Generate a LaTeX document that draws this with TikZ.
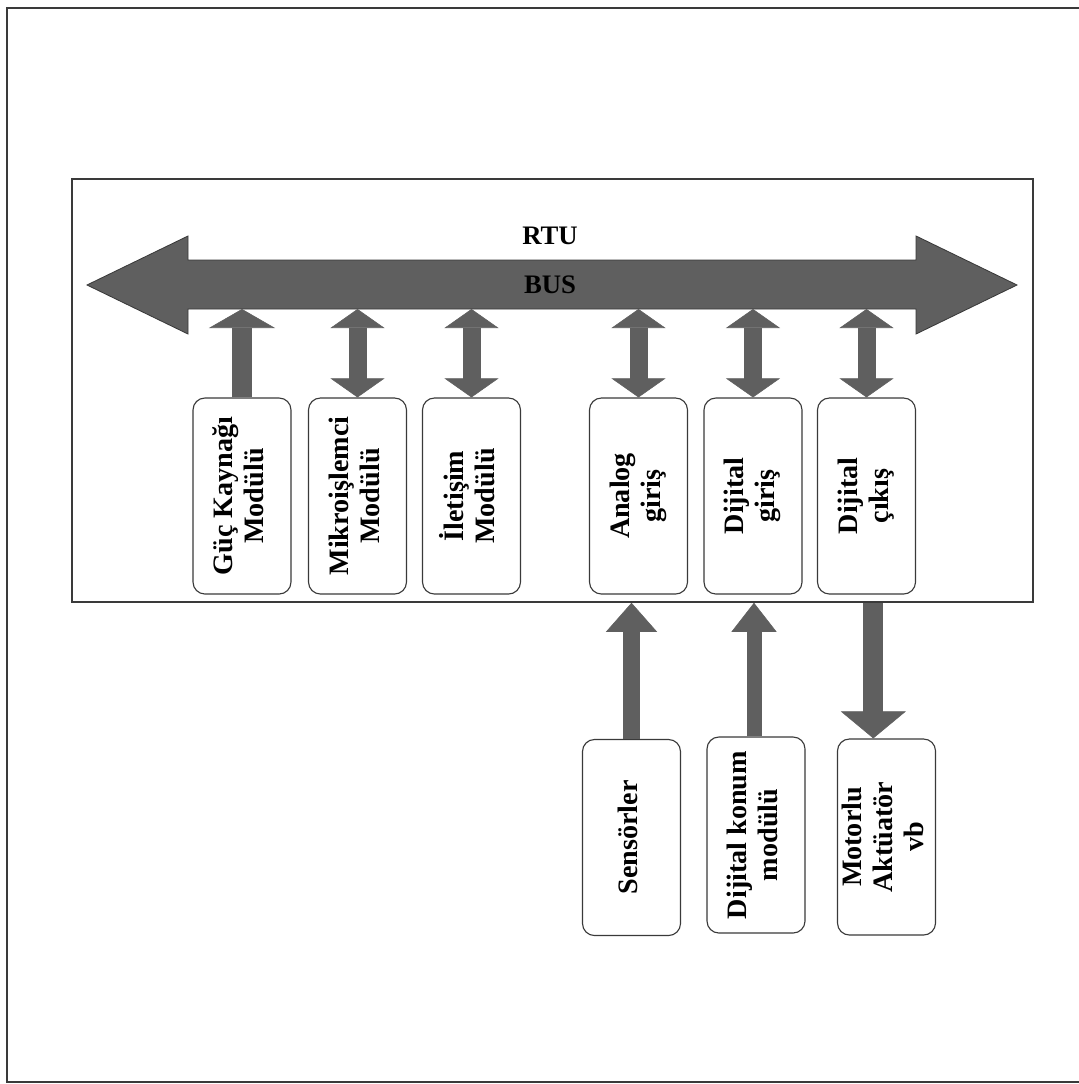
\documentclass[tikz,border=0pt]{standalone}
\usepackage{fontspec}
\setmainfont{Liberation Serif}
\usetikzlibrary{arrows.meta}
\definecolor{busgray}{HTML}{5F5F5F}
\definecolor{edgegray}{HTML}{3A3A3A}
\newcommand{\vlabel}[1]{\rotatebox{90}{\begin{tabular}{@{}c@{}}#1\end{tabular}}}
\begin{document}
\begin{tikzpicture}[x=0.025cm,y=-0.025cm,
    modul/.style={draw=edgegray,line width=0.8pt,rounded corners=0.3cm,fill=white,
      minimum width=2.45cm,minimum height=4.9cm,inner sep=0pt,
      font=\fontsize{20}{22}\selectfont\bfseries},
    link/.style={draw=busgray,line width=0.45cm,
      >={Triangle[width=1.35cm,length=0.475cm,line width=0.4pt,fill=busgray]},<->},
    feedup/.style={draw=busgray,line width=#1,->},
    buslabel/.style={font=\fontsize{19}{21}\selectfont\bfseries,inner sep=0pt}]
      \useasboundingbox (0,0) rectangle (1078,1084);

      % outer frame
      \draw [edgegray,line width=1.2pt] (1080,8) -- (7,8) -- (7,1082) -- (1080,1082);

      % RTU frame
      \node [draw=edgegray,line width=1pt,minimum width=24.025cm,minimum height=10.575cm,inner sep=0pt] (rtu) at (552.5,390.5) {};

      % bus
      \draw [fill=busgray,draw=edgegray,line width=0.6pt] (87,285) -- (188,236) -- (188,260) -- (916,260) -- (916,236)
            -- (1017,285) -- (916,334) -- (916,309) -- (188,309) -- (188,334) -- cycle;
      \coordinate (busS) at (550,309);
      \node [buslabel] (rtutext) at (550,236) {RTU};
      \node [buslabel] (bustext) at (550,285) {BUS};

      % modules in the RTU
      \node [modul] (m1) at (242,496) {\vlabel{Güç Kaynağı\\Modülü}};
      \node [modul] (m2) at (357.5,496) {\vlabel{Mikroişlemci\\Modülü}};
      \node [modul] (m3) at (471.5,496) {\vlabel{İletişim\\Modülü}};
      \node [modul] (m4) at (638.5,496) {\vlabel{Analog\\giriş}};
      \node [modul] (m5) at (753,496) {\vlabel{Dijital\\giriş}};
      \node [modul] (m6) at (866.5,496) {\vlabel{Dijital\\çıkış}};

      % field devices
      \node [modul] (s1) at (631.5,837.5) {\vlabel{Sensörler}};
      \node [modul] (s2) at (756,835) {\vlabel{Dijital konum\\modülü}};
      \node [modul] (s3) at (886.5,837) {\vlabel{Motorlu\\Aktüatör\\vb}};

      % links to the bus
      \draw [feedup=0.5cm,>={Triangle[width=1.65cm,length=0.475cm,line width=0.4pt,fill=busgray]}]
            (m1.north) -- (m1.north |- busS);
      \draw [link] (m2.north) -- (m2.north |- busS);
      \draw [link] (m3.north) -- (m3.north |- busS);
      \draw [link] (m4.north) -- (m4.north |- busS);
      \draw [link] (m5.north) -- (m5.north |- busS);
      \draw [link] (m6.north) -- (m6.north |- busS);

      % field links
      \draw [feedup=0.425cm,>={Triangle[width=1.275cm,length=0.725cm,line width=0.4pt,fill=busgray]}]
            (s1.north) -- (s1.north |- rtu.south);
      \draw [feedup=0.375cm,>={Triangle[width=1.125cm,length=0.725cm,line width=0.4pt,fill=busgray]}]
            ([xshift=-0.05cm]s2.north) -- ([xshift=-0.05cm]s2.north |- rtu.south);
      \draw [feedup=0.5cm,>={Triangle[width=1.625cm,length=0.675cm,line width=0.4pt,fill=busgray]}]
            ([xshift=-0.33cm]s3.north |- rtu.south) -- ([xshift=-0.33cm]s3.north);
\end{tikzpicture}
\end{document}
